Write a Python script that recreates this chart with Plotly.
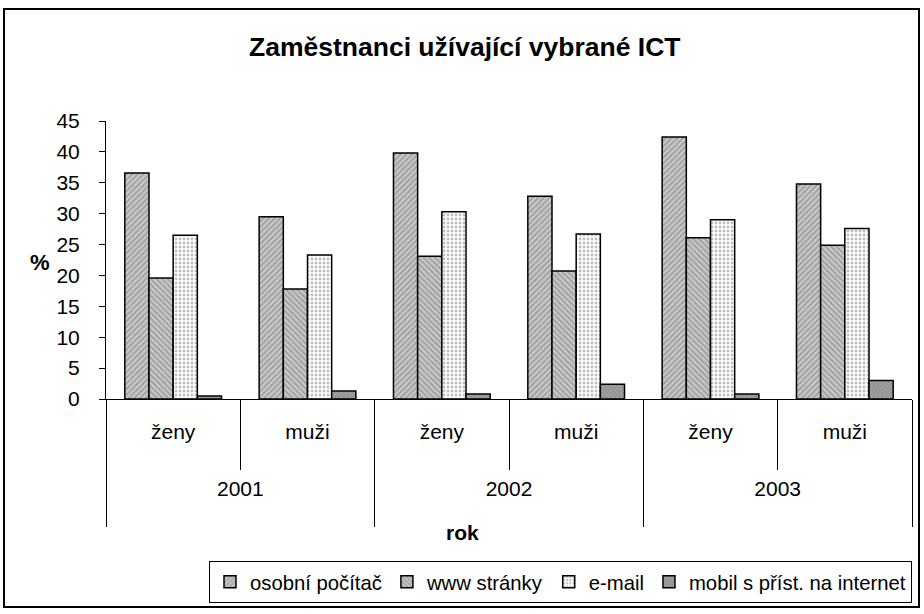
import plotly.graph_objects as go

years = ["2001", "2001", "2002", "2002", "2003", "2003"]
genders = ["ženy", "muži", "ženy", "muži", "ženy", "muži"]
series_names = ["osobní počítač", "www stránky", "e-mail", "mobil s příst. na internet"]
pc = [36.6, 29.5, 39.8, 32.8, 42.4, 34.8]
www = [19.6, 17.8, 23.1, 20.7, 26.1, 24.9]
email = [26.5, 23.3, 30.3, 26.7, 29.0, 27.6]
mobil = [0.5, 1.3, 0.8, 2.4, 0.8, 3.0]
y_ticks = [0, 5, 10, 15, 20, 25, 30, 35, 40, 45]

styles = [
    dict(shape="/", bgcolor="#c8c8c8", fgcolor="#707070", size=4, solidity=0.4),
    dict(shape="\\", bgcolor="#c8c8c8", fgcolor="#707070", size=4, solidity=0.4),
    dict(shape=".", bgcolor="#ffffff", fgcolor="#808080", size=4, solidity=0.4),
    dict(shape="x", bgcolor="#a0a0a0", fgcolor="#606060", size=3, solidity=0.3),
]

# spacing tweaks for the two label rows (taller inner row, blank lines round the years)
pad = "<span style='font-size:36px'>\u00a0</span>"
x_outer = ["<br>" + y + "<br> " for y in years]
x_inner = [pad + g + pad for g in genders]

fig = go.Figure()
for name, vals, st in zip(series_names, [pc, www, email, mobil], styles):
    fig.add_trace(go.Bar(
        name=name,
        x=[x_outer, x_inner],
        y=vals,
        marker=dict(color=st["bgcolor"], line=dict(color="black", width=1.5), pattern=st),
    ))

L, R, T, B = 106, 12, 121, 215
W, H = 924, 614
pw, ph = W - L - R, H - T - B

def px(x):
    return (x - L) / pw

def py(y):
    return (H - B - y) / ph

fig.update_layout(
    width=W, height=H,
    margin=dict(l=L, r=R, t=T, b=B, autoexpand=False),
    paper_bgcolor="white", plot_bgcolor="white",
    font=dict(family="Liberation Sans, Arial, sans-serif", size=21, color="black"),
    barmode="group", bargap=0.28, bargroupgap=0,
    showlegend=True,
    legend=dict(orientation="h", x=px(912), xanchor="right", y=py(561), yanchor="top",
                bordercolor="black", borderwidth=1, font=dict(size=20.3),
                itemwidth=30, tracegroupgap=0),
    xaxis=dict(type="multicategory", showline=True, linecolor="black", linewidth=1,
               ticks="outside", tickson="boundaries", ticklen=70, tickcolor="black",
               showdividers=True, dividercolor="black", dividerwidth=1,
               ticklabelstandoff=14,
               tickfont=dict(size=21), showgrid=False),
    yaxis=dict(range=[0, 45], tickvals=y_ticks, showline=True, linecolor="black", linewidth=1,
               ticks="outside", ticklen=6, tickcolor="black", showgrid=False, zeroline=False,
               ticklabelstandoff=15,
               tickfont=dict(size=21)),
    annotations=[
        dict(text="<b>Zaměstnanci užívající vybrané ICT</b>", x=px(465), y=py(47), xref="paper", yref="paper",
             xanchor="center", yanchor="middle", showarrow=False, font=dict(size=26.5)),
        dict(text="<b>%</b>", x=px(40), y=py(262), xref="paper", yref="paper",
             xanchor="center", yanchor="middle", showarrow=False, font=dict(size=22)),
        dict(text="<b>rok</b>", x=px(462), y=py(532), xref="paper", yref="paper",
             xanchor="center", yanchor="middle", showarrow=False, font=dict(size=21)),
    ],
    shapes=[dict(type="rect", xref="paper", yref="paper", x0=px(4), x1=px(919), y0=py(9), y1=py(607),
                 line=dict(color="black", width=2), fillcolor="rgba(0,0,0,0)", layer="below")],
)

fig.write_html("out.html", config={"displayModeBar": False},
               post_script="document.body.style.margin='0';")
